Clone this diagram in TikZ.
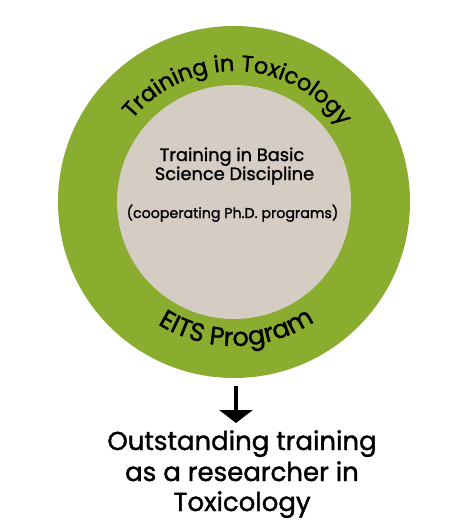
\documentclass[tikz,border=0pt]{standalone}
\usepackage{fontspec}
\newfontfamily\popf[FakeBold=1.4]{Poppins}
\usetikzlibrary{decorations.text,arrows.meta}
\definecolor{ringgreen}{RGB}{138,173,48}
\definecolor{corebeige}{RGB}{213,204,195}
\begin{document}
\begin{tikzpicture}[x=1pt,y=1pt,
  ring/.style={circle,fill=ringgreen,draw=none,minimum size=352pt,inner sep=0pt},
  core/.style={circle,fill=corebeige,draw=none,minimum size=234pt,inner sep=0pt},
  coretext/.style={font=\popf\fontsize{17.8}{20}\selectfont,anchor=base,inner sep=0pt},
  smalltext/.style={font=\popf\fontsize{14.2}{16}\selectfont,anchor=base,inner sep=0pt},
  restext/.style={font=\popf\fontsize{26}{30}\selectfont,anchor=base,inner sep=0pt},
  arr/.style={line width=4pt,-{Triangle[width=33pt,length=13pt]}}]
\useasboundingbox (0,0) rectangle (474,-532);
\fill[white] (0,0) rectangle (474,-532);
\node[ring] (outer) at (234,-202) {};
\node[core] (inner) at (234,-202) {};
\path[decorate,decoration={text along path,text align=center,
  text={|\popf\fontsize{22.5}{24}\selectfont|Training in Toxicology}}]
  (outer.center) ++(150:131) arc[start angle=150,end angle=26,radius=131];
\path[decorate,decoration={text along path,text align=center,
  text={|\popf\fontsize{25.5}{27}\selectfont|EITS Program}}]
  (outer.center) ++(-154:144) arc[start angle=-154,end angle=-24,radius=144];
\node[coretext] (t1) at (232,-161) {Training in Basic};
\node[coretext] (t2) at (234.5,-180) {Science Discipline};
\node[smalltext] (t3) at (232.5,-218) {(cooperating Ph.D. programs)};
\node[restext] (res1) at (242,-450) {Outstanding training};
\node[restext] (res2) at (242,-481) {as a researcher in};
\node[restext] (res3) at (242,-511) {Toxicology};
\draw[arr] ([xshift=2pt,yshift=-8pt]outer.south) -- ([xshift=-6pt,yshift=27pt]res1.base);
\end{tikzpicture}
\end{document}
